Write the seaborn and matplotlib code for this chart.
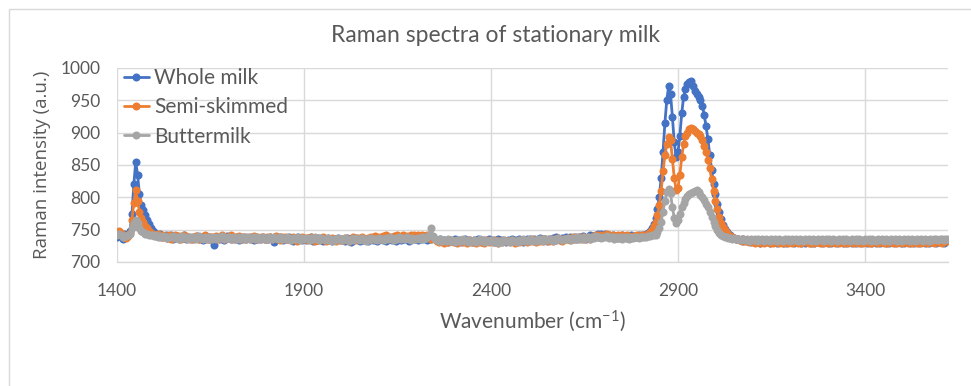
import numpy as np
import pandas as pd
import matplotlib
matplotlib.use("Agg")
import matplotlib.pyplot as plt
import seaborn as sns
from matplotlib.patches import Rectangle

# ---- data ----
wavenumber = np.arange(1400, 3621, 5)  # sampling grid, cm^-1

whole_milk = [
    738, 744, 741, 736, 743, 740, 742, 748, 775, 820, 855, 835, 805, 788, 780, 772, 765, 758, 752, 748,
    746, 743, 741, 744, 739, 740, 742, 737, 739, 741, 736, 738, 740, 735, 739, 737, 741, 736, 738, 737,
    735, 739, 737, 740, 736, 738, 734, 737, 739, 736, 738, 735, 727, 737, 739, 736, 738, 734, 737, 740,
    737, 735, 738, 736, 739, 734, 737, 736, 738, 735, 737, 739, 736, 734, 738, 736, 737, 735, 738, 736,
    735, 737, 739, 736, 731, 737, 735, 738, 736, 734, 737, 735, 738, 736, 733, 737, 735, 738, 736, 734,
    736, 734, 737, 735, 738, 733, 736, 734, 737, 735, 733, 736, 734, 737, 735, 732, 736, 734, 737, 735,
    734, 736, 733, 737, 735, 731, 736, 734, 737, 735, 733, 736, 734, 736, 732, 735, 737, 734, 736, 733,
    735, 737, 734, 736, 733, 735, 737, 734, 736, 732, 735, 737, 734, 736, 735, 737, 733, 736, 738, 735,
    736, 734, 737, 735, 738, 736, 734, 737, 735, 739, 736, 734, 733, 735, 732, 734, 733, 731, 734, 732,
    733, 735, 732, 734, 731, 733, 735, 732, 734, 733, 731, 734, 732, 735, 733, 731, 734, 732, 733, 735,
    732, 734, 731, 733, 735, 732, 734, 733, 731, 734, 732, 735, 733, 734, 732, 735, 733, 731, 734, 736,
    733, 735, 734, 736, 733, 735, 737, 734, 736, 735, 733, 736, 734, 737, 735, 738, 736, 734, 737, 736,
    738, 736, 739, 737, 735, 738, 736, 739, 737, 740, 738, 736, 739, 741, 738, 740, 742, 744, 741, 743,
    742, 744, 740, 742, 739, 741, 738, 740, 737, 739, 741, 738, 740, 737, 739, 741, 738, 740, 739, 741,
    740, 741, 742, 743, 745, 748, 752, 758, 768, 782, 800, 830, 870, 915, 950, 972, 960, 925, 885, 862,
    870, 895, 930, 955, 968, 975, 978, 980, 972, 965, 960, 955, 950, 942, 928, 910, 890, 865, 842, 820,
    805, 790, 777, 766, 757, 751, 747, 744, 741, 739, 737, 736, 735, 734, 735, 733, 734, 732, 733, 731,
    733, 731, 734, 732, 730, 733, 731, 734, 732, 730, 733, 731, 732, 730, 733, 731, 729, 732, 730, 733,
    731, 733, 730, 732, 734, 731, 729, 732, 730, 733, 731, 729, 732, 730, 733, 731, 732, 730, 733, 731,
    730, 732, 729, 731, 733, 730, 732, 731, 729, 732, 730, 733, 731, 729, 732, 730, 731, 733, 730, 732,
    731, 729, 732, 730, 733, 731, 729, 732, 730, 731, 733, 730, 732, 729, 731, 733, 730, 732, 731, 729,
    732, 730, 731, 733, 730, 732, 729, 731, 733, 730, 732, 731, 729, 732, 730, 733, 731, 732, 730, 733,
    731, 733, 730, 732, 734,
]

semi_skimmed = [
    746, 748, 745, 742, 738, 737, 740, 745, 765, 792, 811, 795, 778, 768, 762, 756, 752, 748, 745, 743,
    742, 740, 743, 739, 741, 738, 740, 737, 742, 736, 739, 741, 737, 740, 736, 738, 742, 737, 739, 736,
    738, 736, 740, 737, 735, 739, 737, 741, 736, 738, 735, 739, 737, 740, 736, 738, 741, 737, 735, 739,
    738, 741, 736, 739, 737, 740, 735, 738, 736, 739, 737, 735, 738, 740, 736, 738, 735, 739, 737, 736,
    738, 736, 739, 735, 737, 740, 736, 734, 738, 736, 739, 735, 737, 734, 738, 736, 733, 737, 735, 738,
    735, 737, 734, 736, 738, 735, 733, 737, 734, 736, 738, 735, 733, 736, 734, 737, 735, 732, 736, 734,
    736, 734, 737, 735, 733, 736, 738, 735, 734, 737, 735, 739, 736, 734, 737, 735, 738, 736, 740, 737,
    739, 736, 740, 738, 741, 737, 739, 736, 740, 738, 741, 737, 739, 742, 738, 740, 737, 741, 739, 742,
    738, 741, 739, 742, 740, 738, 741, 739, 736, 738, 735, 733, 731, 734, 732, 730, 733, 731, 734, 732,
    731, 733, 730, 732, 734, 731, 733, 730, 732, 734, 731, 733, 730, 732, 731, 733, 730, 732, 734, 731,
    733, 731, 734, 732, 730, 733, 731, 734, 732, 733, 731, 734, 732, 730, 733, 731, 734, 732, 733, 731,
    734, 732, 735, 733, 731, 734, 732, 735, 733, 736, 734, 732, 735, 733, 736, 734, 737, 735, 733, 736,
    735, 737, 734, 736, 738, 735, 737, 739, 736, 738, 735, 737, 739, 736, 738, 740, 742, 739, 741, 740,
    742, 740, 743, 741, 739, 742, 740, 738, 741, 739, 742, 740, 738, 741, 739, 737, 740, 738, 741, 739,
    740, 741, 741, 742, 744, 746, 750, 755, 762, 772, 788, 810, 840, 865, 882, 893, 888, 860, 830, 812,
    815, 835, 862, 882, 895, 900, 905, 907, 905, 903, 900, 898, 895, 888, 880, 870, 858, 845, 828, 810,
    795, 782, 770, 761, 754, 749, 745, 742, 740, 738, 737, 735, 736, 734, 733, 735, 732, 734, 731, 733,
    732, 730, 733, 731, 729, 732, 730, 733, 731, 729, 732, 730, 733, 731, 729, 732, 730, 731, 733, 730,
    732, 730, 733, 731, 729, 732, 730, 733, 731, 732, 730, 729, 732, 730, 733, 731, 730, 732, 729, 731,
    733, 730, 732, 731, 729, 732, 730, 733, 731, 730, 732, 729, 731, 733, 730, 732, 731, 729, 732, 730,
    733, 731, 730, 732, 729, 731, 733, 730, 732, 731, 729, 732, 730, 733, 731, 730, 732, 729, 731, 733,
    730, 732, 731, 729, 732, 730, 733, 731, 730, 732, 729, 731, 733, 730, 732, 731, 733, 730, 732, 731,
    733, 730, 732, 734, 733,
]

buttermilk = [
    741, 744, 742, 739, 740, 740, 741, 744, 752, 760, 765, 760, 752, 748, 746, 744, 743, 742, 741, 741,
    740, 741, 739, 740, 738, 740, 739, 737, 739, 738, 740, 737, 739, 736, 738, 740, 737, 739, 736, 738,
    737, 739, 736, 738, 740, 737, 735, 738, 736, 739, 737, 735, 738, 736, 739, 737, 740, 736, 738, 737,
    739, 736, 738, 737, 735, 738, 736, 739, 737, 735, 738, 736, 737, 739, 736, 738, 735, 737, 739, 736,
    737, 735, 738, 736, 739, 737, 735, 738, 736, 737, 735, 738, 736, 734, 737, 735, 738, 736, 734, 737,
    735, 737, 736, 734, 737, 735, 738, 736, 734, 737, 735, 736, 734, 737, 735, 733, 736, 734, 737, 735,
    736, 734, 737, 735, 733, 736, 734, 737, 735, 736, 734, 737, 735, 733, 736, 734, 737, 735, 736, 734,
    737, 735, 736, 734, 737, 735, 738, 736, 734, 737, 735, 738, 736, 737, 735, 738, 736, 734, 737, 736,
    735, 737, 736, 738, 736, 737, 739, 742, 753, 740, 736, 734, 733, 735, 732, 734, 733, 735, 732, 734,
    733, 731, 734, 732, 733, 735, 732, 734, 731, 733, 732, 734, 731, 733, 735, 732, 734, 731, 733, 732,
    734, 731, 733, 732, 730, 733, 731, 734, 732, 733, 731, 734, 732, 733, 731, 734, 733, 735, 732, 734,
    733, 735, 732, 734, 733, 735, 734, 736, 733, 735, 734, 736, 735, 733, 736, 734, 737, 735, 734, 736,
    735, 737, 736, 734, 737, 736, 738, 735, 737, 736, 738, 737, 739, 736, 738, 737, 740, 738, 739, 737,
    739, 738, 740, 737, 739, 738, 736, 738, 737, 739, 736, 738, 737, 739, 736, 738, 737, 739, 738, 737,
    738, 738, 739, 739, 740, 740, 741, 741, 742, 746, 752, 762, 778, 795, 808, 813, 806, 785, 768, 760,
    765, 775, 785, 792, 798, 802, 805, 807, 808, 810, 812, 808, 804, 800, 796, 790, 785, 778, 770, 762,
    755, 749, 745, 742, 740, 739, 738, 737, 737, 736, 737, 735, 736, 734, 735, 736, 734, 735, 733, 735,
    734, 736, 733, 735, 734, 736, 733, 735, 734, 733, 735, 734, 736, 733, 735, 734, 733, 735, 734, 736,
    733, 735, 734, 736, 733, 735, 734, 733, 735, 734, 736, 733, 735, 734, 733, 735, 734, 736, 733, 735,
    734, 736, 733, 735, 734, 733, 735, 734, 736, 733, 735, 734, 733, 735, 734, 736, 733, 735, 734, 733,
    735, 734, 736, 733, 735, 734, 733, 735, 734, 736, 733, 735, 734, 733, 735, 734, 736, 733, 735, 734,
    733, 735, 734, 736, 733, 735, 734, 733, 735, 734, 736, 733, 735, 734, 733, 735, 734, 736, 735, 734,
    735, 736, 734, 736, 735,
]

series_names = ["Whole milk", "Semi-skimmed", "Buttermilk"]
series_values = [whole_milk, semi_skimmed, buttermilk]
colors = ["#4472C4", "#ED7D31", "#A5A5A5"]
x_ticks = [1400, 1900, 2400, 2900, 3400]
y_ticks = [700, 750, 800, 850, 900, 950, 1000]

title = "Raman spectra of stationary milk"
x_label = r"Wavenumber (cm$^{\mathregular{-1}}$)"
y_label = "Raman intensity (a.u.)"

# ---- styling ----
sns.set_style("white")
plt.rcParams["font.family"] = ["Lato", "DejaVu Sans"]
plt.rcParams["mathtext.default"] = "regular"
text_color = "#595959"
grid_color = "#D9D9D9"

W, H = 971, 386
fig = plt.figure(figsize=(W / 100, H / 100), dpi=100)
fig.patch.set_facecolor("white")
ax = fig.add_axes([117 / W, 1 - 262 / H, (948 - 117) / W, (262 - 68) / H])

frames = []
for name, vals in zip(series_names, series_values):
    n = min(len(vals), len(wavenumber))
    frames.append(pd.DataFrame({"wavenumber": wavenumber[:n], "intensity": vals[:n], "series": name}))
df = pd.concat(frames, ignore_index=True)

for name, col in zip(series_names, colors):
    sub = df[df["series"] == name]
    sns.lineplot(data=sub, x="wavenumber", y="intensity", ax=ax, color=col,
                 marker="o", markersize=5.8, markeredgewidth=0, linewidth=2.0,
                 label=name, sort=False, estimator=None, zorder=3)

ax.set_xlim(1400, 3622)
ax.set_ylim(700, 1000)
ax.set_xticks(x_ticks)
ax.set_yticks(y_ticks)
ax.grid(True, color=grid_color, linewidth=1.0)
ax.set_axisbelow(True)
for s in ["top", "right", "left"]:
    ax.spines[s].set_visible(False)
ax.spines["bottom"].set_color(grid_color)
ax.spines["bottom"].set_linewidth(1.0)
ax.tick_params(axis="both", length=0, labelcolor=text_color, labelsize=12.5)
ax.tick_params(axis="x", pad=15)
ax.tick_params(axis="y", pad=12)

ax.set_xlabel(x_label, fontsize=15, color=text_color, labelpad=7)
ax.set_ylabel(y_label, fontsize=13.5, color=text_color, labelpad=7,
              family=["Open Sans", "DejaVu Sans"])
fig.text(0.51, 1 - 35 / H, title, ha="center", va="center", fontsize=16.5, color=text_color)

leg = ax.legend(loc="upper left", bbox_to_anchor=(0.008, 1.0), frameon=False,
                fontsize=15, handlelength=1.2, handletextpad=0.25, labelspacing=0.45,
                borderaxespad=0, borderpad=0)
for t in leg.get_texts():
    t.set_color(text_color)

# chart-area border (Excel style, cropped at right/bottom)
fig.add_artist(Rectangle((9 / W, -0.1), 1.2, (H - 9) / H + 0.1, transform=fig.transFigure,
                         fill=False, edgecolor=grid_color, linewidth=1.0))

fig.savefig("out.png", dpi=100, facecolor="white")
